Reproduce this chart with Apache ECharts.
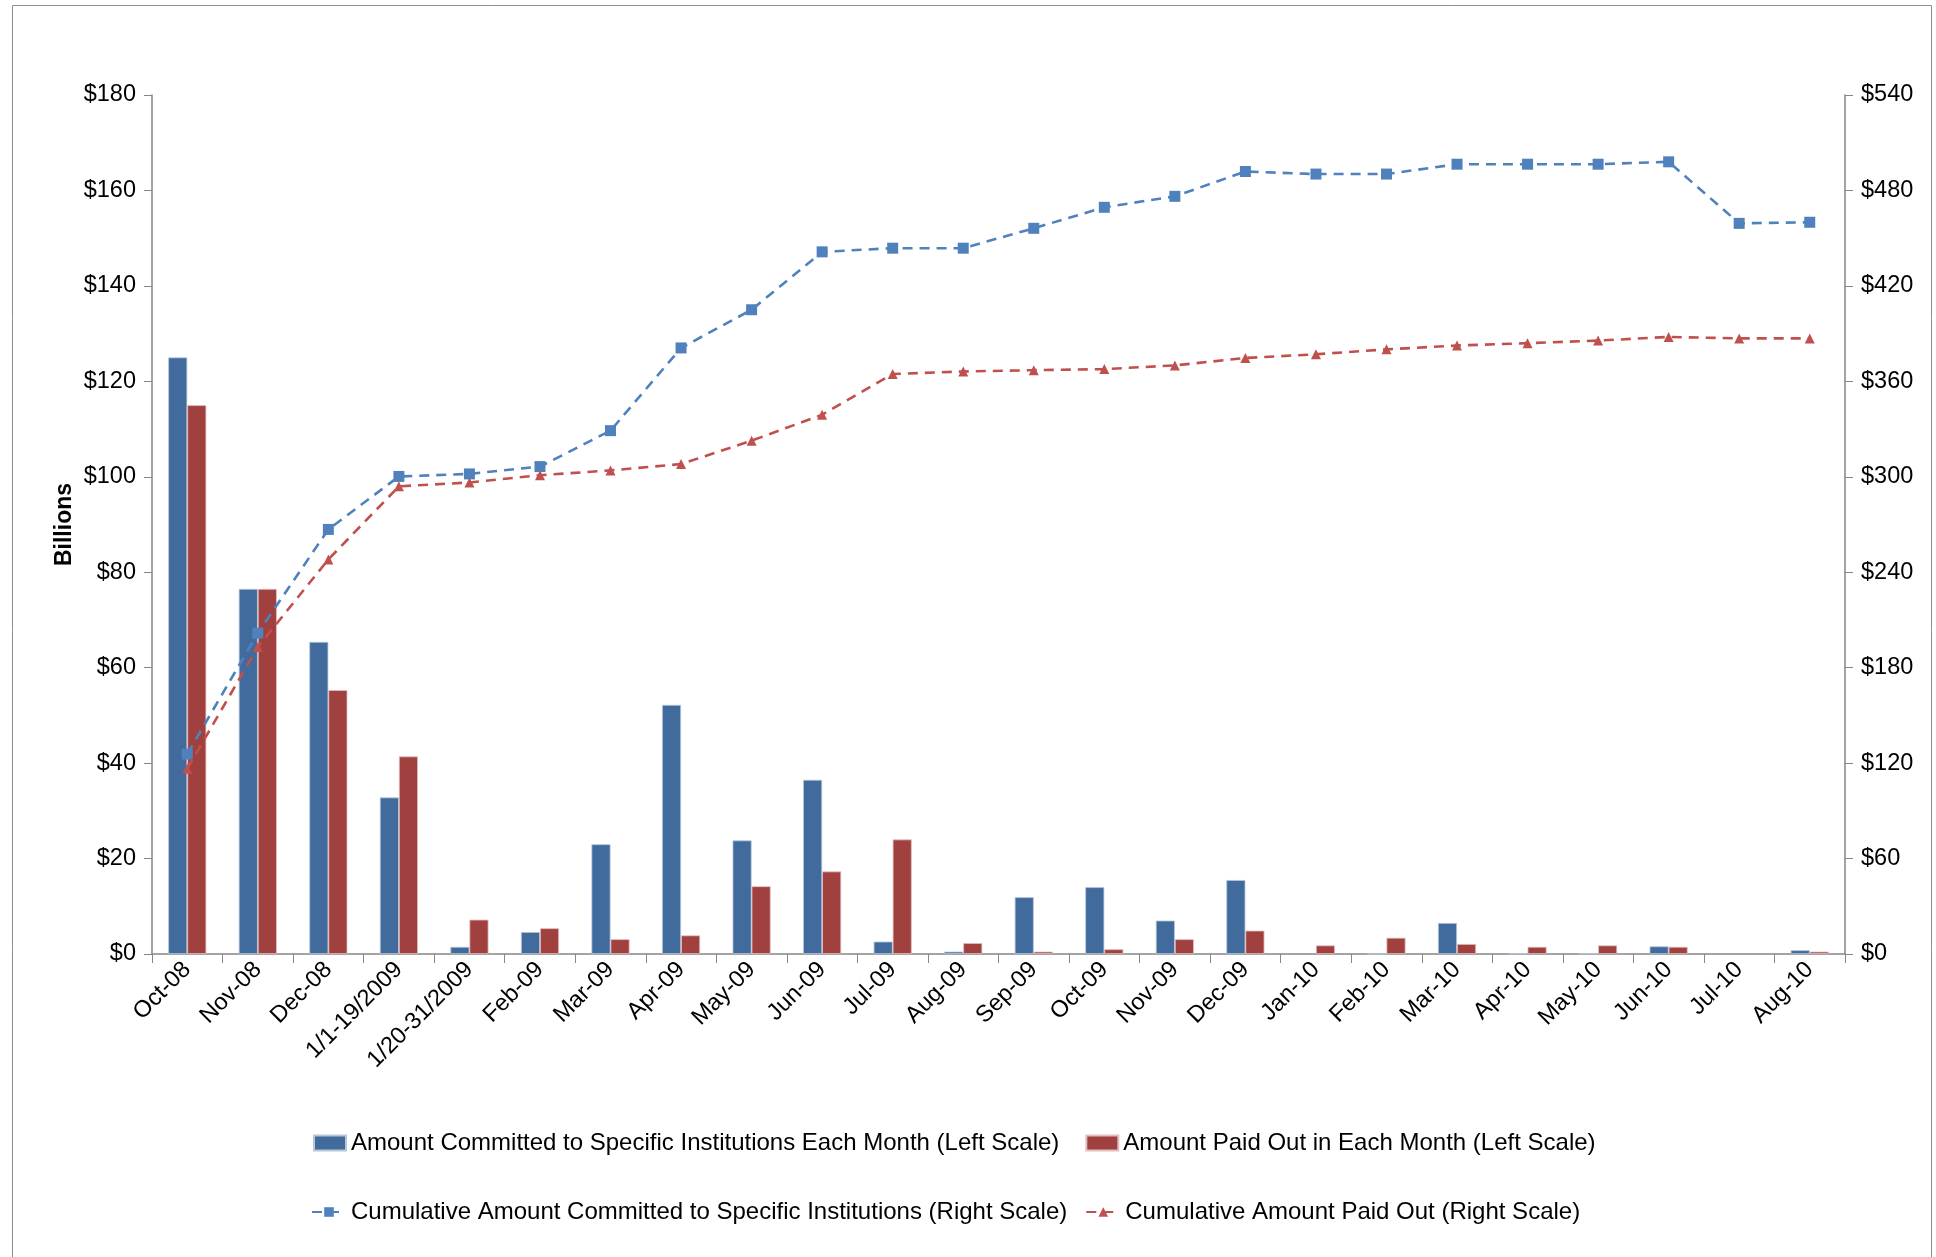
<!DOCTYPE html>
<html>
<head>
<meta charset="utf-8">
<script src="https://cdn.jsdelivr.net/npm/echarts@6/dist/echarts.min.js"></script>
<style>
html,body{margin:0;padding:0;background:#fff;}
#chart{width:1936px;height:1257px;}
</style>
</head>
<body>
<div id="chart"></div>
<script>
const categories = ['Oct-08','Nov-08','Dec-08','1/1-19/2009','1/20-31/2009','Feb-09','Mar-09','Apr-09','May-09','Jun-09','Jul-09','Aug-09','Sep-09','Oct-09','Nov-09','Dec-09','Jan-10','Feb-10','Mar-10','Apr-10','May-10','Jun-10','Jul-10','Aug-10'];
const committed = [125, 76.5, 65.4, 32.8, 1.5, 4.6, 23, 52.2, 23.8, 36.5, 2.6, 0.5, 11.9, 14, 7, 15.5, -0.5, 0, 6.5, 0.1, 0.1, 1.6, -0.4, 0.8];
const paidOut = [115, 76.5, 55.3, 41.4, 7.2, 5.4, 3.1, 3.9, 14.2, 17.3, 24, 2.3, 0.5, 1, 3.1, 4.9, 1.8, 3.4, 2.1, 1.5, 1.8, 1.5, -0.4, 0.5];
const cumCommitted = [125.7, 201.7, 266.9, 300.2, 301.8, 306.4, 329, 381, 405, 441.4, 443.7, 443.7, 456.2, 469.4, 476.3, 491.9, 490.3, 490.3, 496.5, 496.5, 496.5, 498, 459.3, 460];
const cumPaid = [116.4, 193, 248, 294, 296.4, 301, 304, 308, 322.7, 339, 364.6, 366.2, 367, 367.7, 370, 374.7, 377, 380.1, 382.5, 384, 385.6, 387.9, 387, 387];
const leftTicks = [0, 20, 40, 60, 80, 100, 120, 140, 160, 180];
const rightTicks = [0, 60, 120, 180, 240, 300, 360, 420, 480, 540];

const names = [
  'Amount Committed to Specific Institutions Each Month (Left Scale)',
  'Amount Paid Out in Each Month (Left Scale)',
  'Cumulative Amount Committed to Specific Institutions (Right Scale)',
  'Cumulative Amount Paid Out (Right Scale)'
];
const FONT = 'Liberation Sans, Arial, sans-serif';
const chart = echarts.init(document.getElementById('chart'));
chart.setOption({
  animation: false,
  backgroundColor: '#ffffff',
  graphic: [{
    type: 'rect', left: 10, top: 3,
    shape: {width: 1919, height: 1300},
    style: {fill: 'none', stroke: '#8e8e8e', lineWidth: 1}, silent: true
  }],
  legend: [{
    data: [{name: names[0], icon: 'rect'}, {name: names[1], icon: 'rect'}],
    left: 308, top: 1126,
    itemWidth: 32, itemHeight: 15, itemGap: 26,
    textStyle: {fontFamily: FONT, fontSize: 24, color: '#000', letterSpacing: -0.6}
  }, {
    data: [names[2], names[3]],
    left: 306, top: 1195,
    itemWidth: 34, itemHeight: 12, itemGap: 18,
    textStyle: {fontFamily: FONT, fontSize: 24, color: '#000', letterSpacing: -0.6}
  }],
  grid: {left: 152, right: 91, top: 95, bottom: 303, containLabel: false},
  xAxis: {
    type: 'category',
    data: categories,
    axisLine: {lineStyle: {color: '#868686', width: 1.5}},
    axisTick: {show: true, alignWithLabel: false, length: 9, lineStyle: {color: '#868686'}},
    axisLabel: {rotate: 45, interval: 0, fontFamily: FONT, fontSize: 23.5, color: '#000', margin: 12},
    splitLine: {show: false}
  },
  yAxis: [{
    type: 'value', min: 0, max: 180, interval: 20,
    name: 'Billions', nameLocation: 'middle', nameGap: 76, nameRotate: 90,
    nameMoveOverlap: false,
    nameTextStyle: {fontFamily: FONT, fontSize: 23, fontWeight: 'bold', color: '#000'},
    axisLine: {show: true, lineStyle: {color: '#868686', width: 1.5}},
    axisTick: {show: true, inside: false, length: 8, lineStyle: {color: '#868686'}},
    axisLabel: {fontFamily: FONT, fontSize: 23.5, color: '#000', margin: 16,
      formatter: v => leftTicks.includes(v) ? '$' + v : ''},
    splitLine: {show: false}
  }, {
    type: 'value', min: 0, max: 540, interval: 60,
    axisLine: {show: true, lineStyle: {color: '#868686', width: 1.5}},
    axisTick: {show: true, inside: false, length: 8, lineStyle: {color: '#868686'}},
    axisLabel: {fontFamily: FONT, fontSize: 23.5, color: '#000', margin: 16,
      formatter: v => rightTicks.includes(v) ? '$' + v : ''},
    splitLine: {show: false}
  }],
  series: [{
    name: names[0], type: 'bar', data: committed, yAxisIndex: 0,
    barGap: '0%', barCategoryGap: '46%',
    itemStyle: {color: '#416A9D', borderColor: '#B8C6DA', borderWidth: 0.8}
  }, {
    name: names[1], type: 'bar', data: paidOut, yAxisIndex: 0,
    itemStyle: {color: '#A0403F', borderColor: '#E2C0C0', borderWidth: 0.8}
  }, {
    name: names[2], type: 'line', data: cumCommitted, yAxisIndex: 1,
    symbol: 'rect', symbolSize: 11, z: 5,
    lineStyle: {color: '#4F81BD', width: 2.6, type: [10, 7]},
    itemStyle: {color: '#4F81BD'}
  }, {
    name: names[3], type: 'line', data: cumPaid, yAxisIndex: 1,
    symbol: 'triangle', symbolSize: 10, z: 5,
    lineStyle: {color: '#C0504D', width: 2.6, type: [10, 7]},
    itemStyle: {color: '#C0504D'}
  }]
});
</script>
</body>
</html>
